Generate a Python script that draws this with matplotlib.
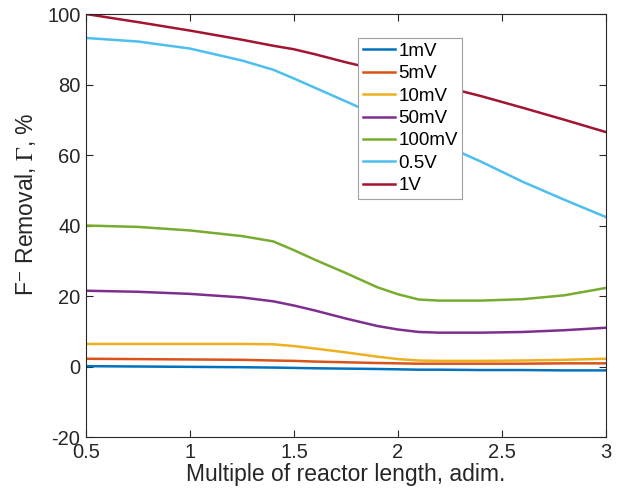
import matplotlib.pyplot as plt

plt.rcParams['font.family'] = ['Liberation Sans', 'DejaVu Sans']
plt.rcParams['mathtext.fontset'] = 'stix'
plt.rcParams['axes.unicode_minus'] = False

# reactor length multiples (x) and removal values
length = [0.5, 0.75, 1.0, 1.25, 1.4, 1.5, 1.6, 1.75, 1.9, 2.0, 2.1, 2.2, 2.4, 2.6, 2.8, 3.0]

r_1mV = [0.1, 0.0, -0.1, -0.2, -0.3, -0.4, -0.5, -0.6, -0.7, -0.8, -0.9, -0.9, -1.0, -1.0, -1.1, -1.1]
r_5mV = [2.2, 2.1, 2.0, 1.9, 1.7, 1.6, 1.4, 1.2, 1.0, 0.9, 0.8, 0.8, 0.8, 0.8, 0.9, 0.9]
r_10mV = [6.4, 6.4, 6.4, 6.4, 6.3, 5.8, 5.1, 4.0, 2.8, 2.1, 1.7, 1.6, 1.6, 1.7, 1.9, 2.2]
r_50mV = [21.5, 21.2, 20.6, 19.6, 18.5, 17.3, 15.9, 13.6, 11.5, 10.5, 9.8, 9.6, 9.6, 9.8, 10.3, 11.0]
r_100mV = [40.0, 39.6, 38.6, 37.0, 35.5, 33.0, 30.3, 26.5, 22.5, 20.5, 19.0, 18.7, 18.7, 19.1, 20.2, 22.3]
r_05V = [93.2, 92.2, 90.2, 86.8, 84.2, 81.7, 79.1, 75.2, 71.2, 68.6, 66.0, 63.4, 58.1, 52.4, 47.3, 42.4]
r_1V = [100.0, 97.7, 95.3, 92.7, 91.0, 90.0, 88.6, 86.3, 84.2, 82.7, 81.2, 79.7, 76.7, 73.4, 70.0, 66.5]

labels = ['1mV', '5mV', '10mV', '50mV', '100mV', '0.5V', '1V']
series = [r_1mV, r_5mV, r_10mV, r_50mV, r_100mV, r_05V, r_1V]
colors = ['#0072BD', '#D95319', '#EDB120', '#7E2F8E', '#77AC30', '#4DBEEE', '#A2142F']

fig = plt.figure(figsize=(6.26, 4.97), dpi=100)
ax = fig.add_axes([0.1374, 0.1207, 0.8306, 0.8511])

for vals, lab, c in zip(series, labels, colors):
    ax.plot(length, vals, color=c, linewidth=1.8, label=lab)

ax.set_xlim(0.5, 3)
ax.set_ylim(-20, 100)
ax.set_xticks([0.5, 1, 1.5, 2, 2.5, 3])
ax.set_xticklabels(['0.5', '1', '1.5', '2', '2.5', '3'])
ax.set_yticks(range(-20, 101, 20))

dark = '#262626'
ax.tick_params(direction='in', top=True, right=True, length=5, width=0.8,
               labelsize=14.5, colors=dark, pad=4)
for s in ax.spines.values():
    s.set_color(dark)
    s.set_linewidth(0.8)

ax.set_xlabel('Multiple of reactor length, adim.', fontsize=16.5, color=dark, labelpad=1)
ax.set_ylabel(r'F$^{\mathsf{-}}$ Removal, $\Gamma$, %', fontsize=16.5, color=dark)
ax.yaxis.set_label_coords(-0.092, 0.55)

leg = ax.legend(loc='upper left', bbox_to_anchor=(0.523, 0.943), fontsize=13.5,
                frameon=True, fancybox=False, handlelength=1.7, handletextpad=0.2,
                labelspacing=0.28, borderpad=0.25, borderaxespad=0)
leg.get_frame().set_edgecolor('#A0A0A0')
leg.get_frame().set_linewidth(0.8)
leg.get_frame().set_alpha(1)

fig.savefig('out.png', dpi=100)
